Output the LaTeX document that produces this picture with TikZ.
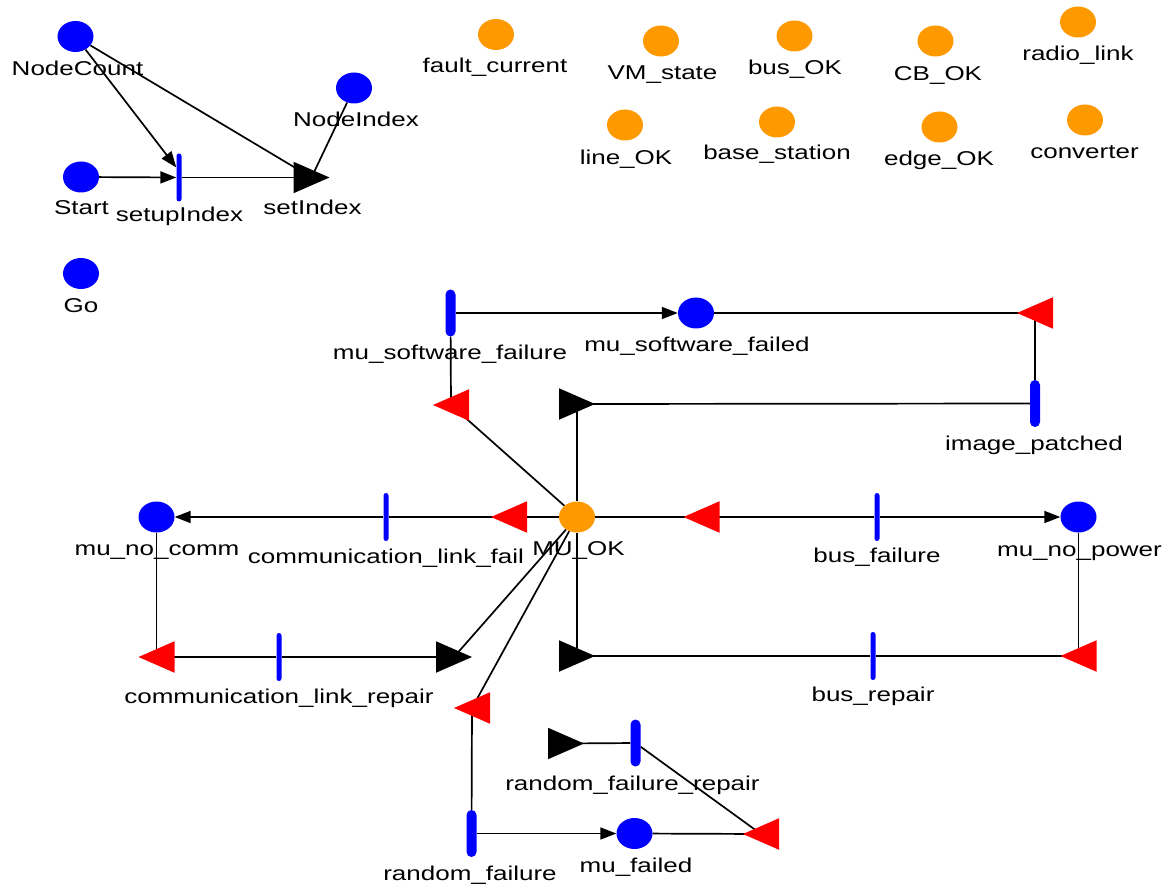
\documentclass[tikz,border=0pt]{standalone}
\usepackage{fontspec}
\setmainfont{Liberation Sans}[FakeStretch=1.3]
\usetikzlibrary{shapes.geometric,arrows.meta}
\definecolor{placeblue}{RGB}{0,0,255}
\definecolor{placeorange}{RGB}{255,153,0}
\definecolor{arcred}{RGB}{255,0,0}
\pgfdeclarelayer{arcs}
\pgfsetlayers{arcs,main}

\tikzset{
  place/.style={ellipse, minimum width=36pt, minimum height=31pt, inner sep=0pt, draw=none},
  bplace/.style={place, fill=placeblue},
  oplace/.style={place, fill=placeorange},
  thintr/.style={rectangle, fill=placeblue, minimum width=5pt, minimum height=48pt, inner sep=0pt, rounded corners=2.5pt},
  thicktr/.style={rectangle, fill=placeblue, minimum width=10pt, minimum height=47pt, inner sep=0pt, rounded corners=5pt},
  lbl/.style={anchor=base, inner sep=0pt, font=\fontsize{20}{24}\selectfont},
  arc/.style={draw=black, line width=1.7pt},
  arcto/.style={arc, -{Triangle[length=16pt,width=12pt]}},
  redtri/.pic={\fill[arcred] (-18,0) -- (18,-15.75) -- (18,15.75) -- cycle;
               \coordinate (-tip) at (-18,0); \coordinate (-c) at (0,0);},
  blacktri/.pic={\fill[black] (18,0) -- (-18,-15.75) -- (-18,15.75) -- cycle;
                 \coordinate (-tip) at (18,0); \coordinate (-c) at (0,0);},
}

\begin{document}
\begin{tikzpicture}[x=1pt,y=-1pt]
\useasboundingbox (0,0) rectangle (1167,890);

% index setup net
\node[bplace] (NodeCount) at (75.5,36.5) {};
\node[bplace] (NodeIndex) at (354,88) {};
\node[bplace] (Start) at (81,177) {};
\node[thintr] (sU) at (179,177.5) {};
\pic (sI) at (311.5,177.5) {blacktri};
\node[bplace] (Go) at (81,273.5) {};

\node[lbl] (l-NodeCount) at (77.5,76) {NodeCount};
\node[lbl] (l-NodeIndex) at (356,127) {NodeIndex};
\node[lbl] (l-Start) at (81.5,215) {Start};
\node[lbl] (l-sU) at (179.5,222) {setupIndex};
\node[lbl] (l-sI) at (312.5,215) {setIndex};
\node[lbl] (l-Go) at (81,313) {Go};

% shared state places
\node[oplace] (fc) at (496,34.5) {};
\node[oplace] (vm) at (661,41) {};
\node[oplace] (bok) at (794.5,36) {};
\node[oplace] (cb) at (935.5,41) {};
\node[oplace] (rl) at (1078,22) {};
\node[oplace] (lok) at (625,125) {};
\node[oplace] (bs) at (777,122) {};
\node[oplace] (eok) at (939.5,127) {};
\node[oplace] (cv) at (1085,120) {};

\node[lbl] (l-fc) at (495,73) {fault\_current};
\node[lbl] (l-vm) at (662.5,80) {VM\_state};
\node[lbl] (l-bok) at (795,75) {bus\_OK};
\node[lbl] (l-cb) at (938,81) {CB\_OK};
\node[lbl] (l-rl) at (1078,61) {radio\_link};
\node[lbl] (l-lok) at (626,165) {line\_OK};
\node[lbl] (l-bs) at (777,160) {base\_station};
\node[lbl] (l-eok) at (939,166) {edge\_OK};
\node[lbl] (l-cv) at (1084.5,159) {converter};

% merging unit net
\node[oplace] (MU) at (577,517) {};
\node[thicktr] (msf) at (450.5,313) {};
\node[bplace] (msfd) at (696,313) {};
\pic (rt1) at (1035,313) {redtri};
\node[thicktr] (ip) at (1035,403.5) {};
\pic (bt1) at (577,404) {blacktri};
\pic (rt2) at (451,405) {redtri};

\pic (rt3) at (509,517) {redtri};
\node[thintr] (clf) at (386,517) {};
\node[bplace] (mnc) at (156.5,517) {};
\pic (rt4) at (156.5,657) {redtri};
\node[thintr] (clr) at (279,657) {};
\pic (bt3) at (454,657) {blacktri};

\pic (rt7) at (701.5,517) {redtri};
\node[thintr] (bf) at (877,517) {};
\node[bplace] (mnp) at (1078.5,517) {};
\pic (rt8) at (1078.5,656) {redtri};
\node[thintr] (br) at (873,656) {};
\pic (bt2) at (577,656) {blacktri};

\pic (rt5) at (472,708) {redtri};
\node[thicktr] (rf) at (471.5,833.5) {};
\node[bplace] (mf) at (634.5,833.5) {};
\pic (rt6) at (761,834) {redtri};
\node[thicktr] (rfr) at (635.5,743) {};
\pic (bt4) at (566,743.5) {blacktri};

\node[lbl] (l-MU) at (578.5,555) {MU\_OK};
\node[lbl] (l-msf) at (450,360) {mu\_software\_failure};
\node[lbl] (l-msfd) at (697,352) {mu\_software\_failed};
\node[lbl] (l-ip) at (1034,450) {image\_patched};
\node[lbl] (l-clf) at (386,563) {communication\_link\_fail};
\node[lbl] (l-mnc) at (157,555) {mu\_no\_comm};
\node[lbl] (l-clr) at (279,703) {communication\_link\_repair};
\node[lbl] (l-bf) at (877,562) {bus\_failure};
\node[lbl] (l-mnp) at (1079.5,556) {mu\_no\_power};
\node[lbl] (l-br) at (873,701) {bus\_repair};
\node[lbl] (l-rf) at (470,880) {random\_failure};
\node[lbl] (l-rfr) at (632.5,790) {random\_failure\_repair};
\node[lbl] (l-mf) at (636,872) {mu\_failed};

\begin{pgfonlayer}{arcs}
  % index setup arcs
  \draw[arcto] (Start) -- (sU);
  \draw[arcto] (NodeCount) -- ([yshift=10pt]sU.west);
  \draw[arc] (sU) -- (sI-c);
  \draw[arc] (NodeCount) -- (sI-c);
  \draw[arc] (NodeIndex) -- (sI-c);

  % software failure loop
  \draw[arcto] (msf) -- (msfd);
  \draw[arc] (msfd) -- (rt1-c);
  \draw[arc] (rt1-c) -- (ip);
  \draw[arc] (ip) -- (bt1-c);
  \draw[arc] (bt1-c) -- (MU);
  \draw[arc] (MU) -- (rt2-c);
  \draw[arc] (rt2-c) -- (msf);

  % communication loop
  \draw[arc] (MU) -- (clf);
  \draw[arcto] (clf) -- (mnc);
  \draw[arc] (mnc) -- (rt4-c);
  \draw[arc] (rt4-c) -- (clr) -- (bt3-c);
  \draw[arc] (bt3-c) -- (MU);

  % power loop
  \draw[arc] (MU) -- (bf);
  \draw[arcto] (bf) -- (mnp);
  \draw[arc] (mnp) -- (rt8-c);
  \draw[arc] (rt8-c) -- (br) -- (bt2-c);
  \draw[arc] (MU) -- (bt2-c);

  % random failure loop
  \draw[arc] (MU) -- (rt5-c);
  \draw[arc] (rt5-c) -- (rf);
  \draw[arcto] (rf) -- (mf);
  \draw[arc] (mf) -- (rt6-c);
  \draw[arc] (rt6-c) -- (rfr);
  \draw[arc] (bt4-c) -- (rfr);
\end{pgfonlayer}
\end{tikzpicture}
\end{document}
